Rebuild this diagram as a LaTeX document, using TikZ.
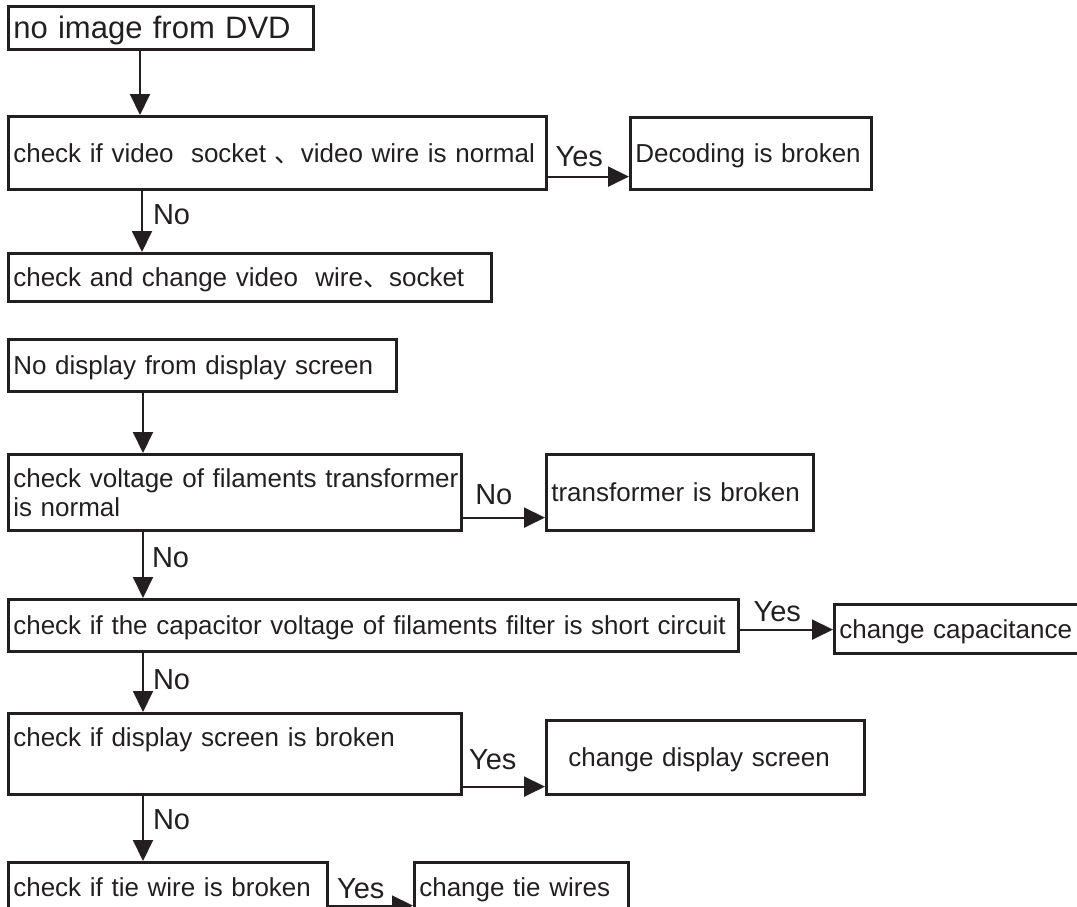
\documentclass[tikz,border=0pt]{standalone}
\usepackage{fontspec}
\setmainfont{Liberation Sans}
\newfontfamily\cjk{Noto Sans CJK SC}
\usetikzlibrary{arrows.meta}
\definecolor{ink}{HTML}{231F20}
\tikzset{
  box/.style={draw=ink, text=ink, line width=2.6pt, anchor=north west,
    inner xsep=5pt, inner ysep=0pt, align=left,
    font=\fontsize{26}{29}\selectfont, text height=18.7pt, text depth=0pt},
  arr/.style={draw=ink, line width=2pt, -{Triangle[length=21pt,width=20pt]}},
  lab/.style={text=ink, inner sep=0pt, font=\fontsize{29}{29}\selectfont,
    text height=21pt, text depth=0pt},
}
\begin{document}
\begin{tikzpicture}[x=1pt, y=-1pt]
  \useasboundingbox (0,0) rectangle (1077,906);
  % DVD part
  \node[box, text width=295pt, minimum height=43pt,
    font=\fontsize{31}{34}\selectfont, text height=22.3pt] (dvd) at (7,5) {no image from DVD};
  \node[box, text width=528pt, minimum height=73pt] (video) at (7,115)
    {\mbox{check if video\ \ socket {\cjk 、}video wire is normal}};
  \node[box, text width=231pt, minimum height=72pt] (decode) at (629,116) {Decoding is broken};
  \node[box, text width=473pt, minimum height=48pt] (chvideo) at (7,252)
    {check and change video\ \ wire{\cjk 、}socket};
  \draw[arr] ([xshift=133pt]dvd.south west) -- ([xshift=133pt]video.north west);
  \draw[arr] ([yshift=14pt]video.south east) coordinate (p1) -- (p1 -| decode.west)
    node[lab, midway, above=9pt, xshift=-9pt] {Yes};
  \draw[arr] ([xshift=135pt]video.south west) -- ([xshift=135pt]chvideo.north west)
    node[lab, pos=0.38, right=10pt] {No};
  % display part
  \node[box, text width=378pt, minimum height=52pt] (nodisp) at (7,338) {No display from display screen};
  \node[box, text width=443pt, minimum height=76pt, text height={}, text depth={}] (filament) at (7,453)
    {\mbox{check voltage of filaments transformer}\\is normal};
  \node[box, text width=257pt, minimum height=76pt] (xformer) at (545,453) {transformer is broken};
  \node[box, text width=720pt, minimum height=52pt] (capv) at (7,598)
    {\mbox{check if the capacitor voltage of filaments filter is short circuit}};
  \node[box, text width=250pt, minimum height=49pt] (chcap) at (833,603) {change capacitance};
  \node[box, text width=443pt, minimum height=81pt, text depth=34pt] (screen) at (7,712)
    {check if display screen is broken};
  \node[box, text width=274pt, minimum height=74pt, inner xsep=22pt] (chscreen) at (545,719)
    {change display screen};
  \node[box, text width=309pt, minimum height=50pt] (tie) at (7,861) {check if tie wire is broken};
  \node[box, text width=204pt, minimum height=50pt] (chtie) at (413,861) {change tie wires};
  \draw[arr] ([xshift=136pt]nodisp.south west) -- ([xshift=136pt]filament.north west);
  \draw[arr] ([yshift=14pt]filament.south east) coordinate (p2) -- (p2 -| xformer.west)
    node[lab, midway, above=12pt, xshift=-10pt] {No};
  \draw[arr] ([xshift=136pt]filament.south west) -- ([xshift=136pt]capv.north west)
    node[lab, pos=0.38, right=8pt] {No};
  \draw[arr] ([yshift=23pt]capv.south east) coordinate (p3) -- (p3 -| chcap.west)
    node[lab, midway, above=7pt, xshift=-9pt] {Yes};
  \draw[arr] ([xshift=136pt]capv.south west) -- ([xshift=136pt]screen.north west)
    node[lab, pos=0.45, right=9pt] {No};
  \draw[arr] ([yshift=9pt]screen.south east) coordinate (p4) -- (p4 -| chscreen.west)
    node[lab, midway, above=16pt, xshift=-11pt] {Yes};
  \draw[arr] ([xshift=136pt]screen.south west) -- ([xshift=136pt]tie.north west)
    node[lab, pos=0.35, right=9pt] {No};
  \draw[arr] ([yshift=8pt]tie.south east) coordinate (p5) -- (p5 -| chtie.west)
    node[lab, midway, above=6pt, xshift=-10pt] {Yes};
\end{tikzpicture}
\end{document}
